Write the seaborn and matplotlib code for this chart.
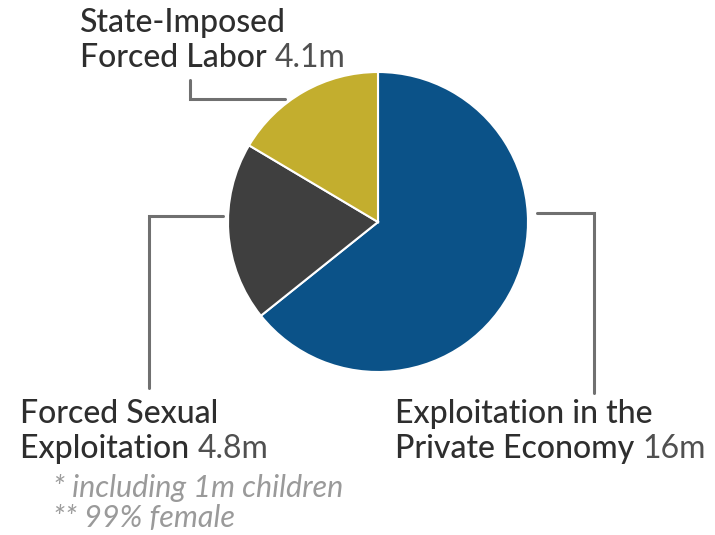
import matplotlib
matplotlib.use("Agg")
import matplotlib.pyplot as plt
import seaborn as sns

# data
categories = ["Exploitation in the\nPrivate Economy", "Forced Sexual\nExploitation", "State-Imposed\nForced Labor"]
values = [16, 4.8, 4.1]
value_labels = ["16m", "4.8m", "4.1m"]
footnotes = ["* including 1m children", "** 99% female"]
colors = ["#0b5288", "#3f3f3f", "#c3ae2e"]

sns.set_theme(style="white")
plt.rcParams['font.family'] = ['Lato', 'DejaVu Sans']

W, H = 715, 535
fig = plt.figure(figsize=(W / 100, H / 100), dpi=100)

# pie axes, placed in pixels
cx, cy, r = 378, 222, 150
ax = fig.add_axes([(cx - r) / W, 1 - (cy + r) / H, 2 * r / W, 2 * r / H])
ax.pie(values, colors=colors, startangle=90, counterclock=False, radius=1,
       wedgeprops=dict(edgecolor="white", linewidth=1.5))
ax.set_xlim(-1, 1)
ax.set_ylim(-1, 1)
ax.set_aspect("equal")
ax.axis("off")

# overlay for leader lines and labels (pixel coords, y down)
ov = fig.add_axes([0, 0, 1, 1])
ov.set_xlim(0, W)
ov.set_ylim(H, 0)
ov.axis("off")

lc = "#707070"
ov.plot([190, 190, 285], [80, 99, 99], color=lc, lw=2.2, solid_joinstyle="miter")
ov.plot([223, 149, 149], [216, 216, 388], color=lc, lw=2.2, solid_joinstyle="miter")
ov.plot([537, 594, 594], [213, 213, 393], color=lc, lw=2.2, solid_joinstyle="miter")

tc = "#2e2e2e"
fs = 23
renderer = fig.canvas.get_renderer()

def two_line(x, y, name, val):
    first, second = name.split("\n")
    ov.text(x, y, first, fontsize=fs, color=tc, va="baseline", ha="left", weight="medium")
    t = ov.text(x, y + 35, second + " ", fontsize=fs, color=tc, va="baseline", ha="left",
                weight="medium")
    bb = t.get_window_extent(renderer=renderer)
    # number appended after the name in a lighter tone
    ov.text(bb.x1 / W, 1 - (y + 35) / H, val, fontsize=fs, color="#505050",
            va="baseline", ha="left", transform=fig.transFigure)

two_line(80, 32, categories[2], value_labels[2])
two_line(20, 423, categories[1], value_labels[1])
two_line(395, 423, categories[0], value_labels[0])

ov.text(53, 497, footnotes[0], fontsize=22, color="#9a9a9a", style="italic", va="baseline")
ov.text(53, 527, footnotes[1], fontsize=22, color="#9a9a9a", style="italic", va="baseline")

fig.savefig("out.png", dpi=100)
